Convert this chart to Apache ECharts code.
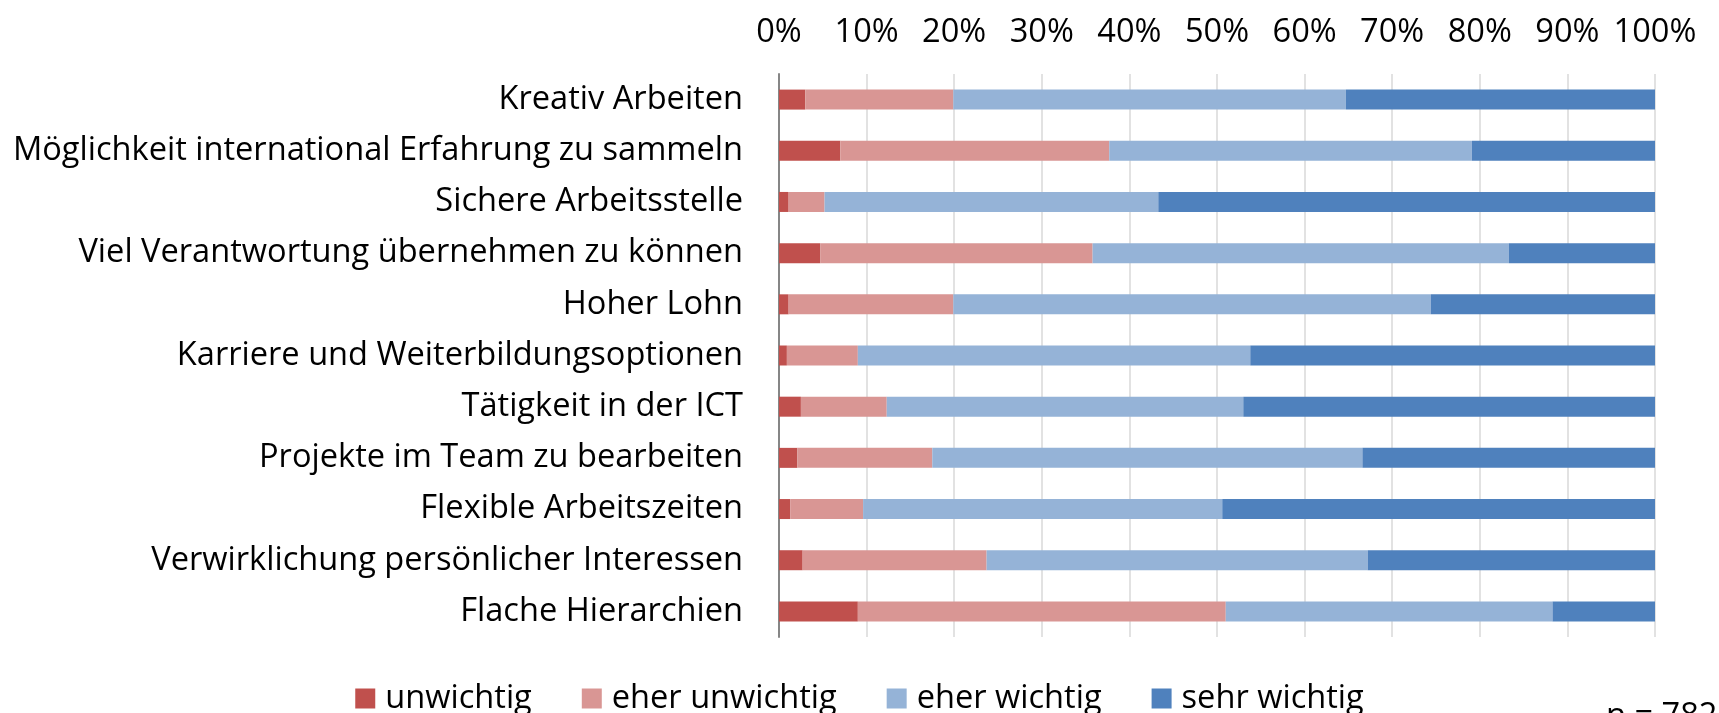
<!DOCTYPE html>
<html>
<head>
<meta charset="utf-8">
<script src="https://cdn.jsdelivr.net/npm/echarts@6/dist/echarts.min.js"></script>
<style>
  html, body { margin: 0; padding: 0; background: #fff; }
  #chart { width: 1719px; height: 713px; }
</style>
</head>
<body>
<div id="chart"></div>
<script>
// Kategorien (von oben nach unten)
var categories = [
  "Kreativ Arbeiten",
  "Möglichkeit international Erfahrung zu sammeln",
  "Sichere Arbeitsstelle",
  "Viel Verantwortung übernehmen zu können",
  "Hoher Lohn",
  "Karriere und Weiterbildungsoptionen",
  "Tätigkeit in der ICT",
  "Projekte im Team zu bearbeiten",
  "Flexible Arbeitszeiten",
  "Verwirklichung persönlicher Interessen",
  "Flache Hierarchien"
];

// Anteile in %
var unwichtig      = [3.0, 7.0, 1.1, 4.7, 1.1, 0.9, 2.5, 2.1, 1.3, 2.7, 9.0];
var eherUnwichtig  = [16.9, 30.7, 4.1, 31.1, 18.8, 8.1, 9.8, 15.4, 8.3, 21.0, 42.0];
var eherWichtig    = [44.8, 41.4, 38.1, 47.5, 54.5, 44.8, 40.7, 49.1, 41.0, 43.5, 37.3];
var sehrWichtig    = [35.3, 20.9, 56.7, 16.7, 25.6, 46.2, 47.0, 33.4, 49.4, 32.8, 11.7];

var seriesNames = ["unwichtig", "eher unwichtig", "eher wichtig", "sehr wichtig"];
var seriesColors = ["#C0504D", "#D99694", "#95B3D7", "#4F81BD"];
var noteText = "n = 782";

var FONT = "'Open Sans', sans-serif";
var FS = 32.6;

var chart = echarts.init(document.getElementById("chart"));

function makeSeries(name, data, color) {
  return {
    name: name,
    type: "bar",
    stack: "total",
    barWidth: 20,
    itemStyle: { color: color },
    emphasis: { disabled: true },
    data: data
  };
}

var option = {
  animation: false,
  textStyle: { fontFamily: FONT },
  grid: {
    left: 779,
    right: 64,
    top: 74,
    bottom: 76
  },
  legend: {
    left: "center",
    top: 677,
    icon: "rect",
    itemWidth: 20,
    itemHeight: 20,
    itemGap: 50,
    textStyle: { fontSize: FS, color: "#000", fontFamily: FONT, padding: [0, 0, 0, 5] },
    data: seriesNames
  },
  xAxis: {
    type: "value",
    position: "top",
    min: 0,
    max: 100,
    interval: 10,
    axisLine: { show: false },
    axisTick: { show: false },
    axisLabel: {
      formatter: "{value}%",
      fontSize: FS,
      color: "#000",
      margin: 25,
      fontFamily: FONT
    },
    splitLine: { show: true, lineStyle: { color: "#D9D9D9", width: 1.5 } }
  },
  yAxis: {
    type: "category",
    inverse: true,
    data: categories,
    axisLine: { show: true, lineStyle: { color: "#868686", width: 2 } },
    axisTick: { show: false },
    axisLabel: {
      fontSize: FS,
      color: "#000",
      margin: 36,
      fontFamily: FONT
    }
  },
  graphic: [
    {
      type: "text",
      left: 1606,
      top: 700,
      style: { text: noteText, fontSize: FS, fill: "#000", fontFamily: FONT }
    }
  ],
  series: [
    makeSeries(seriesNames[0], unwichtig, seriesColors[0]),
    makeSeries(seriesNames[1], eherUnwichtig, seriesColors[1]),
    makeSeries(seriesNames[2], eherWichtig, seriesColors[2]),
    makeSeries(seriesNames[3], sehrWichtig, seriesColors[3])
  ]
};

chart.setOption(option);
</script>
</body>
</html>
